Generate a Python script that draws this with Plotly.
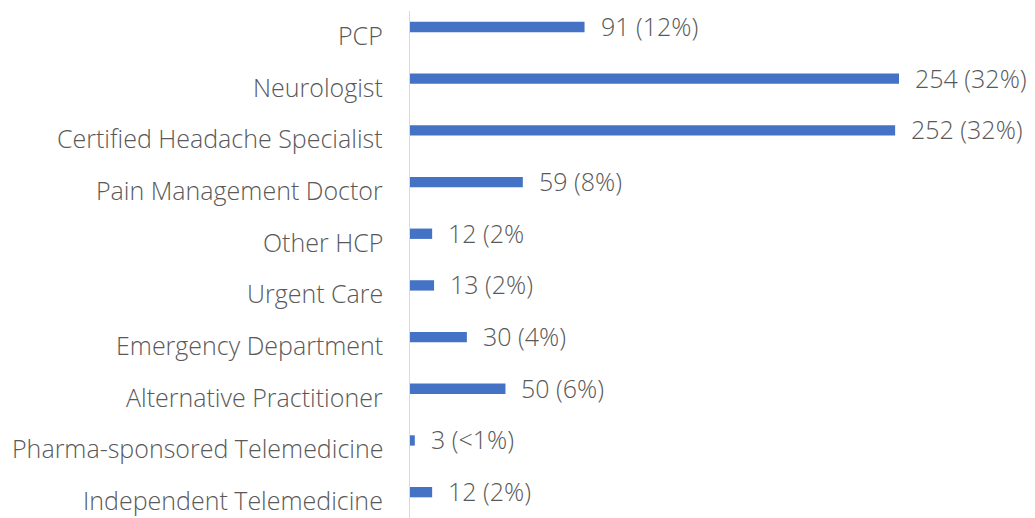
import plotly.graph_objects as go

categories = ["PCP", "Neurologist", "Certified Headache Specialist", "Pain Management Doctor",
              "Other HCP", "Urgent Care", "Emergency Department", "Alternative Practitioner",
              "Pharma-sponsored Telemedicine", "Independent Telemedicine"]
values = [91, 254, 252, 59, 12, 13, 30, 50, 3, 12]
labels = ["91 (12%)", "254 (32%)", "252 (32%)", "59 (8%)", "12 (2%", "13 (2%)",
          "30 (4%)", "50 (6%)", "3 (<1%)", "12 (2%)"]

FONT = "Open Sans"
GRAY = "#595959"
SIZE = 25

fig = go.Figure(go.Bar(
    x=values, y=categories, orientation="h",
    marker=dict(color="#4472C4", line=dict(width=0)),
    width=0.2, hoverinfo="skip",
))

for c, v, t in zip(categories, values, labels):
    # value label right of the bar
    fig.add_annotation(x=v, y=c, text=t, showarrow=False, xanchor="left",
                       yanchor="middle", xshift=14, yshift=1,
                       font=dict(family=FONT, size=SIZE, color=GRAY, weight=300))
    # category label left of the axis, sitting slightly below the bar
    fig.add_annotation(x=0, xref="paper", y=c, text=c, showarrow=False,
                       xanchor="right", yanchor="middle", xshift=-24, yshift=-8,
                       font=dict(family=FONT, size=SIZE, color=GRAY, weight=300))

fig.add_shape(type="line", xref="x", yref="paper", x0=0, x1=0, y0=0, y1=0.979,
              line=dict(color="#D9D9D9", width=2))

fig.update_layout(
    width=1035, height=518,
    margin=dict(l=409, r=0, t=0, b=0),
    paper_bgcolor="white", plot_bgcolor="white",
    showlegend=False,
    xaxis=dict(range=[0, 324.5], visible=False, fixedrange=True),
    yaxis=dict(autorange="reversed", showgrid=False, showline=False, zeroline=False,
               ticks="", showticklabels=False, automargin=False, fixedrange=True),
)

fig.write_html("out.html", config={"displayModeBar": False},
               post_script="document.body.style.margin='0px';")
